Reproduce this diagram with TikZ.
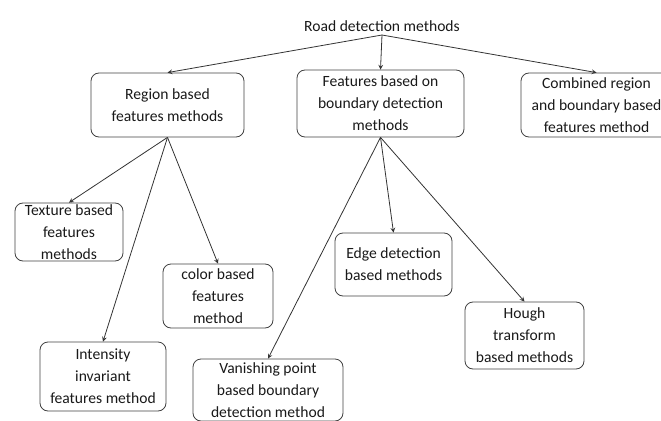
\documentclass[tikz,border=0pt]{standalone}
\usepackage{fontspec}
\setmainfont{Carlito}
\begin{document}
\begin{tikzpicture}[>=stealth, x=0.75pt, y=-0.75pt,
  every node/.style={font=\fontsize{11.7}{16.5}\selectfont, text=black!90},
  box/.style={draw=black!75, line width=0.6pt, rounded corners=6pt, align=center, inner sep=0pt},
  link/.style={->, draw=black!80, line width=0.6pt}]
\useasboundingbox (0,0) rectangle (661,421);

\node[anchor=south, inner sep=2pt] (root) at (382,35) {Road detection methods};

\node[box, minimum width=114.75pt, minimum height=48pt] (region) at (167.5,105) {Region based\\features methods};
\node[box, minimum width=125.25pt, minimum height=50.25pt] (boundary) at (380.5,103.5) {Features based on\\boundary detection\\methods};
\node[box, minimum width=113.25pt, minimum height=48pt] (combined) at (596.5,105) {Combined region\\and boundary based\\features method};

\node[box, minimum width=81pt, minimum height=43.5pt] (texture) at (69,232) {Texture based\\features\\methods};
\node[box, minimum width=82.5pt, minimum height=48pt] (colorbox) at (218,296) {color based\\features\\method};
\node[box, minimum width=94.5pt, minimum height=51.75pt] (intensity) at (103,376.5) {Intensity\\invariant\\features method};

\node[box, minimum width=87.75pt, minimum height=47.25pt] (edge) at (393.5,264.5) {Edge detection\\based methods};
\node[box, minimum width=89.25pt, minimum height=50.25pt] (hough) at (524.5,335.5) {Hough\\transform\\based methods};
\node[box, minimum width=112.5pt, minimum height=46.5pt] (vanishing) at (268,390) {Vanishing point\\based boundary\\detection method};

\draw[link] (root.south) -- (region.north);
\draw[link] (root.south) -- (boundary.north);
\draw[link] (root.south) -- (combined.north);

\draw[link] (region.south) -- (texture.north);
\draw[link] (region.south) -- (intensity.north);
\draw[link] (region.south) -- (colorbox.north);

\draw[link] (boundary.south) -- (vanishing.north);
\draw[link] (boundary.south) -- (edge.north);
\draw[link] (boundary.south) -- (hough.north);
\end{tikzpicture}
\end{document}
